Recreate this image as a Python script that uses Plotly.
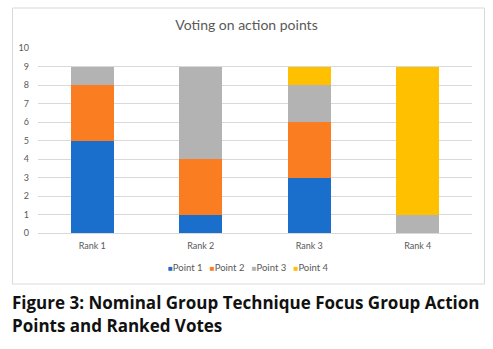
import plotly.graph_objects as go

categories = ["Rank 1", "Rank 2", "Rank 3", "Rank 4"]
point1 = [5, 1, 3, 0]
point2 = [3, 3, 3, 0]
point3 = [1, 5, 2, 1]
point4 = [0, 0, 1, 8]
series_names = ["Point 1", "Point 2", "Point 3", "Point 4"]
series_colors = ["#1a6ecc", "#fb7d22", "#b3b3b3", "#ffc000"]
y_ticks = list(range(0, 11))

W, H = 493, 349
L, R, T, B = 38, 472.5, 48, 233  # plot area in px

def px(x):
    return (x - L) / (R - L)

def py(y):
    return (B - y) / (B - T)

fig = go.Figure()
for name, vals, col in zip(series_names, [point1, point2, point3, point4], series_colors):
    fig.add_trace(go.Bar(x=categories, y=vals, name=name, marker=dict(color=col, line=dict(width=0))))

fig.update_layout(
    width=W, height=H,
    barmode="stack", bargap=0.6,
    margin=dict(l=L, r=W - R, t=T, b=H - B, pad=0),
    paper_bgcolor="white", plot_bgcolor="white",
    title=dict(text="Voting on action points", x=0.5, xanchor="center", y=1 - 25 / H, yanchor="middle",
               font=dict(family="Lato", size=14, color="#595959")),
    showlegend=False,
    font=dict(family="Lato", color="#595959"),
)
fig.update_yaxes(range=[0, 10], tickvals=y_ticks, showgrid=True, gridcolor="#d9d9d9", gridwidth=1,
                 zeroline=False, showline=False, ticks="", tickfont=dict(size=9, color="#595959"),
                 ticklabelstandoff=8)
fig.update_xaxes(showgrid=False, showline=True, linecolor="#d9d9d9", linewidth=1, ticks="",
                 tickfont=dict(size=9, color="#595959"), ticklabelstandoff=4)

# legend built from series names/colours
legend_html = "&nbsp;&nbsp;&nbsp;".join(
    f'<span style="color:{c};font-size:8px">■</span>{n}' for n, c in zip(series_names, series_colors)
)
fig.add_annotation(xref="paper", yref="paper", x=px(249), y=py(267), xanchor="center", yanchor="middle",
                   text=legend_html, showarrow=False, font=dict(family="Lato", size=9.5, color="#595959"))

# chart border box
fig.add_shape(type="rect", xref="paper", yref="paper", x0=px(12.5), x1=px(485), y0=py(284), y1=py(8),
              line=dict(color="#d9d9d9", width=1), fillcolor="rgba(0,0,0,0)", layer="below")

# caption
fig.add_annotation(xref="paper", yref="paper", x=px(10), y=py(302), xanchor="left", yanchor="middle",
                   text="<b>Figure 3: Nominal Group Technique Focus Group Action</b>", showarrow=False,
                   font=dict(family="Open Sans", size=17, color="#111111", weight=800))
fig.add_annotation(xref="paper", yref="paper", x=px(10), y=py(325), xanchor="left", yanchor="middle",
                   text="<b>Points and Ranked Votes</b>", showarrow=False,
                   font=dict(family="Open Sans", size=17, color="#111111", weight=800))

fig.write_html("out.html", config={"displayModeBar": False},
               post_script="document.body.style.margin='0';")
